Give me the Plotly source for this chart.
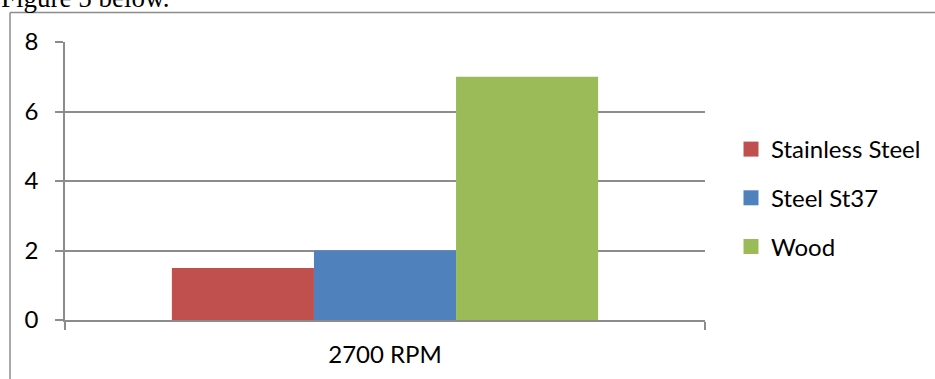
import plotly.graph_objects as go

# Chart data
categories = ["2700 RPM"]
materials = ["Stainless Steel", "Steel St37", "Wood"]
values = [1.5, 2.0, 7.0]
colors = ["#C0504D", "#4F81BD", "#9BBB59"]
y_ticks = [0, 2, 4, 6, 8]

W, H = 935, 379
L, R, T, B = 65, 230, 42, 59
pw, ph = W - L - R, H - T - B


def px_x(p):
    return (p - L) / pw


def px_y(p):
    return (H - B - p) / ph


FONT = "Lato"
GRAY = "#8c8c8c"

fig = go.Figure()

for name, val, col in zip(materials, values, colors):
    fig.add_trace(go.Bar(x=categories, y=[val], name=name, marker_color=col,
                         marker_line_width=0, showlegend=False))
    # legend swatch
    fig.add_trace(go.Scatter(x=[None], y=[None], mode="markers", name=name,
                             legendgroup=name,
                             marker=dict(symbol="square", size=15, color=col)))

fig.update_layout(
    width=W, height=H,
    margin=dict(l=L, r=R, t=T, b=B, autoexpand=False),
    paper_bgcolor="white", plot_bgcolor="white",
    barmode="group", bargap=0.334, bargroupgap=0,
    font=dict(family=FONT, size=24, color="#000000"),
    showlegend=True,
    legend=dict(x=px_x(731), xanchor="left", y=px_y(127), yanchor="top",
                tracegroupgap=14.5, font=dict(family=FONT, size=24),
                bgcolor="rgba(0,0,0,0)"),
    xaxis=dict(type="category", tickson="boundaries", ticks="outside",
               ticklen=8, tickwidth=1.5, tickcolor=GRAY,
               showline=True, linecolor=GRAY, linewidth=1.5,
               showgrid=False, ticklabelstandoff=12,
               tickfont=dict(family=FONT, size=24)),
    yaxis=dict(range=[0, 8], tickvals=y_ticks, ticks="outside",
               ticklen=8, tickwidth=1.5, tickcolor=GRAY,
               showline=True, linecolor=GRAY, linewidth=1.5,
               showgrid=True, gridcolor=GRAY, gridwidth=1.5,
               zeroline=False, ticklabelstandoff=12,
               tickfont=dict(family=FONT, size=24)),
)

# surrounding frame (left and top edges)
fig.add_shape(type="line", xref="paper", yref="paper",
              x0=px_x(10), x1=px_x(10), y0=px_y(395), y1=px_y(12.5),
              line=dict(color=GRAY, width=1.5))
fig.add_shape(type="line", xref="paper", yref="paper",
              x0=px_x(10), x1=px_x(945), y0=px_y(12.5), y1=px_y(12.5),
              line=dict(color=GRAY, width=1.5))

# running text above the frame
fig.add_annotation(text="Figure 5 below.", xref="paper", yref="paper",
                   x=px_x(-1), xanchor="left", y=px_y(15), yanchor="bottom",
                   showarrow=False,
                   font=dict(family="Liberation Serif", size=27, color="#000000"))

fig.write_html("out.html")
